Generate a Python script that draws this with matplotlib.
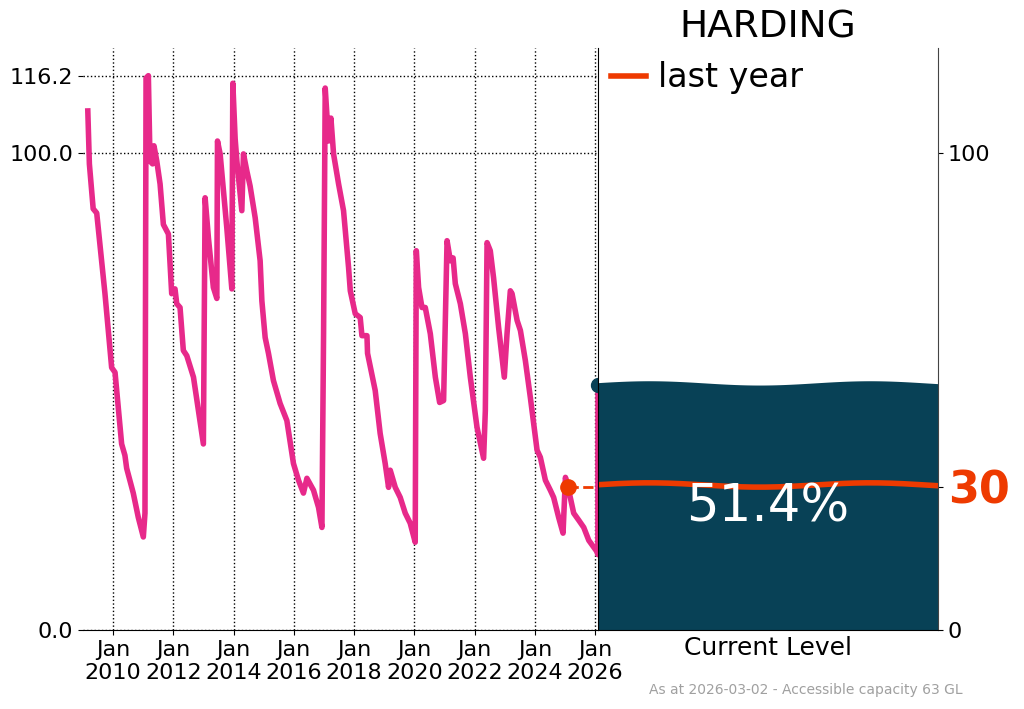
import matplotlib
matplotlib.use("Agg")
import matplotlib.pyplot as plt
import matplotlib.dates as mdates
from matplotlib.lines import Line2D
from matplotlib.ticker import FormatStrFormatter
import numpy as np
import pandas as pd

# Dam storage history (percent of accessible capacity)
dam_name = "HARDING"
dates = [
    "2009-03-01", "2009-03-20", "2009-05-05", "2009-06-17", "2009-09-25",
    "2009-12-15", "2010-01-25", "2010-04-15", "2010-05-25", "2010-06-15",
    "2010-09-03", "2010-11-03", "2011-01-03", "2011-01-23", "2011-01-28",
    "2011-02-05", "2011-03-05", "2011-03-25", "2011-04-25", "2011-05-12",
    "2011-06-15", "2011-07-25", "2011-09-03", "2011-11-03", "2011-12-13",
    "2012-01-22", "2012-02-12", "2012-03-23", "2012-05-02", "2012-06-13",
    "2012-09-02", "2012-11-01", "2012-12-31", "2013-01-21", "2013-03-02",
    "2013-05-01", "2013-06-12", "2013-06-20", "2013-07-22", "2013-10-11",
    "2013-12-11", "2013-12-23", "2014-01-20", "2014-02-10", "2014-04-11",
    "2014-05-01", "2014-06-11", "2014-07-20", "2014-09-20", "2014-11-19",
    "2014-12-10", "2015-01-19", "2015-02-28", "2015-04-29", "2015-07-19",
    "2015-10-09", "2015-12-28", "2016-02-27", "2016-04-27", "2016-06-08",
    "2016-08-27", "2016-10-27", "2016-12-07", "2016-12-27", "2017-01-16",
    "2017-02-25", "2017-03-26", "2017-04-27", "2017-06-27", "2017-08-26",
    "2017-10-26", "2017-11-16", "2018-01-15", "2018-03-16", "2018-04-06",
    "2018-06-06", "2018-06-13", "2018-09-14", "2018-11-13", "2019-01-13",
    "2019-02-23", "2019-03-15", "2019-05-15", "2019-07-14", "2019-09-13",
    "2019-11-12", "2020-01-12", "2020-01-25", "2020-02-22", "2020-04-03",
    "2020-05-13", "2020-07-13", "2020-09-12", "2020-11-03", "2020-12-21",
    "2021-02-01", "2021-03-13", "2021-04-15", "2021-05-12", "2021-07-12",
    "2021-09-11", "2021-11-10", "2022-01-30", "2022-04-20", "2022-05-11",
    "2022-06-01", "2022-07-10", "2022-08-19", "2022-10-19", "2022-12-27",
    "2023-01-29", "2023-03-10", "2023-03-31", "2023-05-31", "2023-07-10",
    "2023-09-08", "2023-11-08", "2024-01-28", "2024-03-08", "2024-05-08",
    "2024-07-07", "2024-08-16", "2024-10-16", "2024-12-08", "2025-01-06",
    "2025-02-15", "2025-04-16", "2025-06-17", "2025-08-16", "2025-10-16",
    "2026-01-20", "2026-02-03", "2026-02-05",
]
levels = [
    108.8, 97.7, 88.3, 87.4, 70.5,
    55.0, 54.0, 39.0, 36.6, 33.9,
    28.7, 23.6, 19.5, 24.5, 63.4,
    115.7, 116.2, 98.3, 97.7, 101.5,
    98.3, 93.5, 85.0, 83.0, 70.5,
    71.5, 68.4, 67.6, 58.6, 57.5,
    53.0, 46.0, 39.0, 90.6, 82.2,
    71.8, 69.5, 102.5, 99.8, 84.3,
    71.5, 114.6, 103.0, 98.3, 87.9,
    99.8, 96.2, 93.1, 86.4, 77.4,
    69.0, 61.3, 58.0, 52.3, 47.5,
    43.9, 34.9, 31.4, 28.7, 31.8,
    29.3, 25.7, 21.5, 62.1, 113.6,
    102.5, 107.3, 99.8, 93.5, 87.9,
    76.0, 71.1, 66.3, 65.5, 61.7,
    61.7, 58.0, 50.2, 41.2, 34.9,
    29.9, 33.5, 29.9, 27.8, 24.5,
    22.4, 18.4, 79.5, 71.8, 67.6,
    67.6, 62.1, 53.0, 47.7, 48.1,
    81.6, 77.4, 78.0, 72.6, 68.4,
    62.1, 53.0, 42.5, 36.0, 46.0,
    81.2, 79.5, 73.8, 63.4, 53.0,
    62.1, 71.1, 70.5, 64.9, 62.8,
    56.5, 48.7, 37.7, 36.2, 31.4,
    29.3, 27.8, 23.6, 20.3, 32.0,
    29.3, 24.5, 23.0, 21.5, 18.8,
    16.5, 15.8, 51.4,
]
current_date = "2026-02-05"
current_level = 51.4
last_year_date = "2025-02-05"
last_year_level = 30
left_yticks = [0.0, 100.0, 116.2]
right_yticks = [0, 30, 100]
footer = "As at 2026-03-02 - Accessible capacity 63 GL"

pink = "#e7298a"
dark = "#084156"
red = "#ee3a00"

fig = plt.figure(figsize=(10.24, 7.09), dpi=100)
ax1 = fig.add_axes([0.081, 0.1114, 0.503, 0.821])
ax2 = fig.add_axes([0.584, 0.1114, 0.332, 0.821])

t = pd.to_datetime(dates)
now = pd.to_datetime(current_date)
ago = pd.to_datetime(last_year_date)
ymax = max(levels) * 1.05

# history panel
ax1.plot(t, levels, color=pink, lw=4, zorder=3)
ax1.plot([ago, now], [last_year_level, last_year_level], "--", color=red, lw=2, zorder=4)
ax1.plot(ago, last_year_level, "o", color=red, ms=11, zorder=5)
ax1.plot(now, current_level, "o", color=dark, ms=10, clip_on=False, zorder=5)
ax1.set_xlim(pd.Timestamp("2009-01-01"), now)
ax1.set_ylim(0, ymax)
ax1.set_yticks(left_yticks)
ax1.yaxis.set_major_formatter(FormatStrFormatter("%.1f"))
ax1.xaxis.set_major_locator(mdates.YearLocator(2))
ax1.xaxis.set_major_formatter(mdates.DateFormatter("%b\n%Y"))
ax1.tick_params(labelsize=16)
ax1.grid(True, color="k", linestyle=":", lw=1)
for s in ["top", "right", "left"]:
    ax1.spines[s].set_visible(False)

# current level panel, with a gentle wave on the surface
x = np.linspace(0, 1, 200)
wave = 0.4 + 0.45 * np.cos(2 * np.pi * (x - 0.15) / 0.65)
ax2.fill_between(x, 0, current_level + wave, color=dark, lw=0)
ax2.plot(x, last_year_level + wave, color=red, lw=4)
ax2.text(0.5, current_level / 2, f"{current_level}%", color="white",
         fontsize=37, ha="center", va="center")
ax2.set_xlim(0, 1)
ax2.set_ylim(0, ymax)
ax2.set_xticks([])
ax2.yaxis.tick_right()
ax2.set_yticks(right_yticks)
ax2.tick_params(labelsize=16)
for lab in ax2.get_yticklabels():
    if lab.get_text() == str(last_year_level):
        lab.set_color(red)
        lab.set_fontweight("bold")
        lab.set_fontsize(32)
ax2.set_xlabel("Current Level", fontsize=18, labelpad=4)
ax2.spines["top"].set_visible(False)
ax2.spines["right"].set_color("#444444")
ax2.legend(handles=[Line2D([], [], color=red, lw=4)], labels=["last year"],
           loc="upper left", frameon=False, fontsize=24,
           handlelength=1.05, handletextpad=0.35, borderaxespad=0.0)

fig.text(768 / 1024, 1 - 27 / 709, dam_name, ha="center", va="center", fontsize=27)
fig.text(963 / 1024, 1 - 690 / 709, footer, ha="right", va="center",
         fontsize=10, color="#a0a0a0")

fig.savefig("out.png", dpi=100)
